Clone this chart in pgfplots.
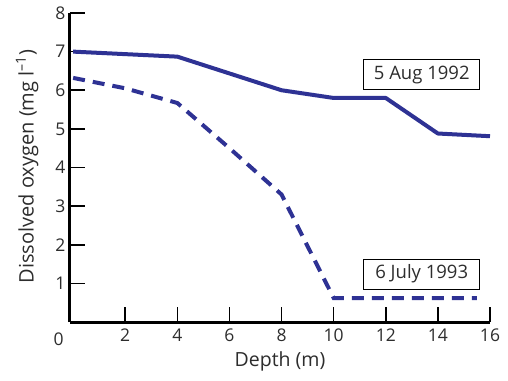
\documentclass[border=0pt]{standalone}
\usepackage{pgfplots}
\pgfplotsset{compat=1.18}
\usepackage{fontspec}
\setmainfont{Open Sans}
\definecolor{lineblue}{RGB}{46,50,148}
\definecolor{txt}{RGB}{45,45,45}
\begin{document}
\begin{tikzpicture}[x=1pt,y=1pt]
\path[use as bounding box] (0,0) rectangle (508,380);
\begin{axis}[
  at={(70pt,58pt)}, anchor=south west,
  scale only axis, width=420pt, height=309pt,
  xmin=-0.12, xmax=16, ymin=0, ymax=8,
  axis lines=left,
  axis line style={-, line width=3pt, black},
  xtick={2,4,...,16}, ytick={1,2,...,8},
  tick align=inside,
  major tick length=15pt,
  tick style={line width=1.5pt, black},
  /pgf/number format/assume math mode=true,
  ticklabel style={font=\fontsize{17.5}{20}\selectfont, text=txt},
  xticklabel style={yshift=-3.5pt},
  yticklabel style={xshift=-1pt},
  xlabel={Depth (m)},
  ylabel={Dissolved oxygen (mg l\textsuperscript{–1})},
  xlabel style={font=\fontsize{19.5}{22}\selectfont, text=txt, at={(axis description cs:0.5,0)}, anchor=center, yshift=-39pt},
  ylabel style={font=\fontsize{20}{24}\selectfont, text=txt, at={(axis description cs:-0.102,0.503)}, anchor=center},
  clip=false,
]
\addplot[lineblue, line width=4pt, line join=round] coordinates {
  (0,7.0) (4,6.87) (8,6.0) (10,5.8) (12,5.8) (14,4.88) (16,4.81)
};
\addplot[lineblue, line width=4pt, dash pattern=on 12pt off 8pt] coordinates {
  (0,6.32) (2,6.05) (4,5.67) (6,4.5) (8,3.3) (10,0.62) (15.5,0.62)
};
\node[draw=black, line width=0.8pt, minimum width=116pt, minimum height=30pt, inner sep=0pt, text=txt, font=\fontsize{18.5}{20}\selectfont] at (axis cs:13.38,6.4) {5 Aug 1992};
\node[draw=black, line width=0.8pt, minimum width=116pt, minimum height=30pt, inner sep=0pt, text=txt, font=\fontsize{18.5}{20}\selectfont] at (axis cs:13.38,1.24) {6 July 1993};
\node[text=txt, font=\fontsize{17.5}{20}\selectfont] at (axis cs:0,0) [xshift=-14.5pt, yshift=-17pt] {0};
\end{axis}
\end{tikzpicture}
\end{document}
